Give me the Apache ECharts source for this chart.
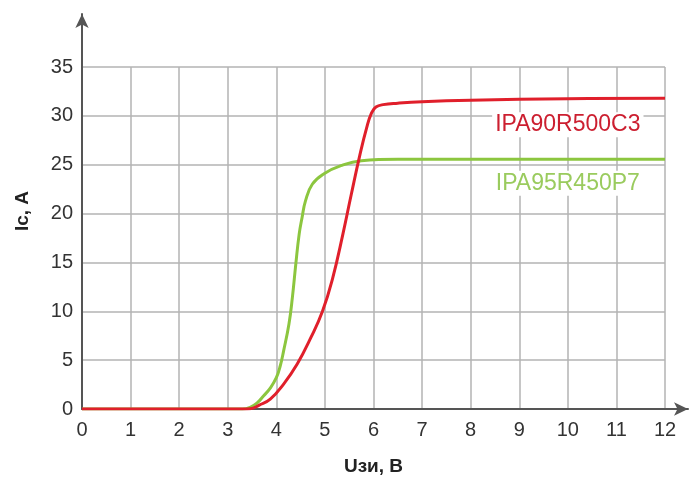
<!DOCTYPE html>
<html>
<head>
<meta charset="utf-8">
<script src="https://cdn.jsdelivr.net/npm/echarts@6/dist/echarts.min.js"></script>
<style>html,body{margin:0;padding:0;background:#fff}#c{width:689px;height:477px}</style>
</head>
<body>
<div id="c"></div>
<script>
// Data
const redName = 'IPA90R500C3';
const greenName = 'IPA95R450P7';
const redX = [0, 3.3, 3.46, 3.65, 3.875, 4.15, 4.43, 4.71, 4.95, 5.16, 5.37, 5.54, 5.72, 5.86, 5.96, 6.05, 6.2, 6.5, 7, 8, 10, 12];
const redY = [0, 0, 0.02, 0.4, 1.0, 2.55, 4.6, 7.3, 10.0, 13.4, 17.9, 21.9, 26.0, 28.8, 30.3, 30.9, 31.15, 31.3, 31.45, 31.6, 31.75, 31.8];
const greenX = [0, 3.3, 3.46, 3.6, 3.74, 3.875, 4.0, 4.08, 4.15, 4.26, 4.33, 4.40, 4.47, 4.53, 4.60, 4.74, 4.99, 5.33, 5.75, 6.5, 12];
const greenY = [0, 0, 0.17, 0.6, 1.36, 2.14, 3.2, 4.4, 5.95, 8.7, 11.4, 14.8, 17.9, 19.6, 21.3, 23.0, 24.1, 24.9, 25.4, 25.55, 25.55];
const xTicks = [0, 1, 2, 3, 4, 5, 6, 7, 8, 9, 10, 11, 12];
const yTicks = [0, 5, 10, 15, 20, 25, 30, 35];
const redLabelAt = [10, 29.1];
const greenLabelAt = [10, 23.1];

const pairs = (xs, ys) => xs.map((x, i) => [x, ys[i]]);
const font = '"Liberation Sans", Arial, sans-serif';
const RED = '#e01f2b', GREEN = '#8cc63f';

const chart = echarts.init(document.getElementById('c'), null, {renderer: 'canvas'});
chart.setOption({
  animation: false,
  backgroundColor: '#fff',
  grid: [
    {left: 82, right: 24, top: 67, bottom: 68, containLabel: false, outerBoundsMode: 'none'},
    {left: 82, right: 1, top: 14, bottom: 68, containLabel: false, outerBoundsMode: 'none'}
  ],
  xAxis: [
    {
      type: 'value', gridIndex: 0, min: xTicks[0], max: xTicks[xTicks.length - 1], interval: 1,
      axisLine: {show: false}, axisTick: {show: false},
      axisLabel: {color: '#333', fontSize: 20, fontFamily: font, margin: 11},
      splitLine: {show: true, lineStyle: {color: '#b3b3b3', width: 1.5}},
      name: 'Uзи, B', nameLocation: 'middle', nameGap: 48,
      nameTextStyle: {color: '#222', fontSize: 19, fontWeight: 'bold', fontFamily: font}
    },
    {
      type: 'value', gridIndex: 1, min: 0, max: 1,
      axisLine: {show: true, symbol: ['none', 'arrow'], symbolSize: [10, 14], lineStyle: {color: '#555', width: 2}},
      axisTick: {show: false}, axisLabel: {show: false}, splitLine: {show: false}
    }
  ],
  yAxis: [
    {
      type: 'value', gridIndex: 0, min: yTicks[0], max: yTicks[yTicks.length - 1], interval: 5,
      axisLine: {show: false}, axisTick: {show: false},
      axisLabel: {color: '#333', fontSize: 20, fontFamily: font, margin: 9, padding: [4, 0, 0, 0]},
      splitLine: {show: true, lineStyle: {color: '#b3b3b3', width: 1.5}}
    },
    {
      type: 'value', gridIndex: 1, min: 0, max: 1,
      axisLine: {show: true, symbol: ['none', 'arrow'], symbolSize: [10, 14], lineStyle: {color: '#555', width: 2}},
      axisTick: {show: false}, axisLabel: {show: false}, splitLine: {show: false}
    }
  ],
  graphic: [{
    type: 'text', left: 13, top: 191, rotation: Math.PI / 2,
    style: {text: 'Ic, A', fill: '#222', font: 'bold 19px ' + font}
  }],
  series: [
    {
      type: 'line', name: greenName, xAxisIndex: 0, yAxisIndex: 0,
      data: pairs(greenX, greenY), smooth: 0.45, showSymbol: false,
      lineStyle: {color: GREEN, width: 3}, z: 3,
      markPoint: {
        symbol: 'rect', symbolSize: 0, silent: true,
        data: [{coord: greenLabelAt}],
        label: {show: true, position: 'inside', formatter: greenName, color: '#9acb5e', fontSize: 23,
          fontFamily: font, backgroundColor: '#fff', padding: [1, 3]}
      }
    },
    {
      type: 'line', name: redName, xAxisIndex: 0, yAxisIndex: 0,
      data: pairs(redX, redY), smooth: 0.45, showSymbol: false,
      lineStyle: {color: RED, width: 3}, z: 4,
      markPoint: {
        symbol: 'rect', symbolSize: 0, silent: true,
        data: [{coord: redLabelAt}],
        label: {show: true, position: 'inside', formatter: redName, color: '#cc1f30', fontSize: 23,
          fontFamily: font, backgroundColor: '#fff', padding: [1, 3]}
      }
    },
    {type: 'line', xAxisIndex: 1, yAxisIndex: 1, data: [], silent: true}
  ]
});
</script>
</body>
</html>
